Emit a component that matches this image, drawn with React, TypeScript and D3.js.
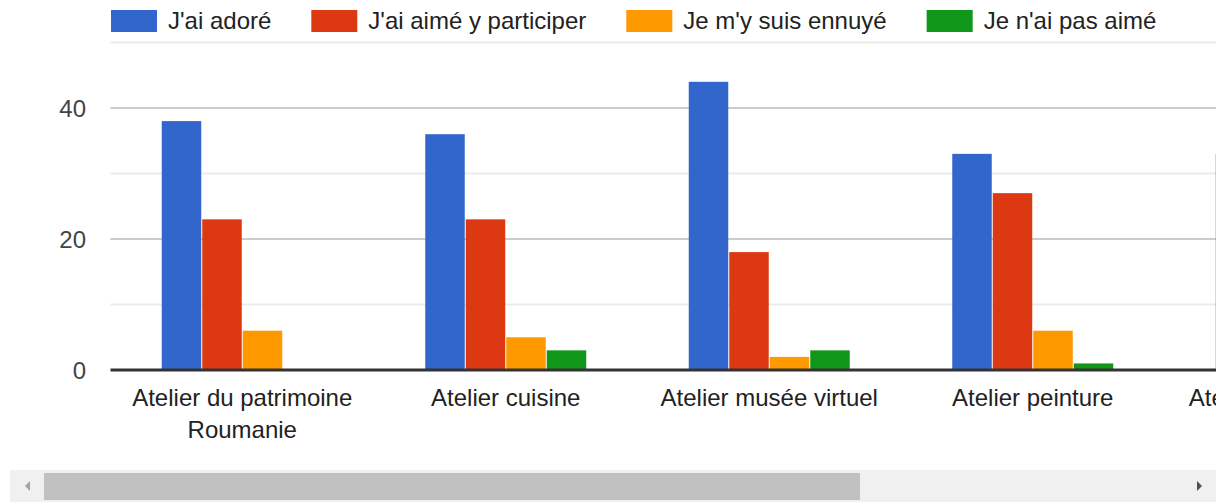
import React, { useEffect, useRef } from "react";
import * as d3 from "d3";

const categories = [
  ["Atelier du patrimoine", "Roumanie"],
  ["Atelier cuisine"],
  ["Atelier musée virtuel"],
  ["Atelier peinture"],
  ["Atelier photographie"],
];
const seriesNames = ["J'ai adoré", "J'ai aimé y participer", "Je m'y suis ennuyé", "Je n'ai pas aimé"];
const seriesColors = ["#3366cc", "#dc3912", "#ff9900", "#109618"];
const adore = [38, 36, 44, 33, 33];
const aime = [23, 23, 18, 27, 25];
const ennuye = [6, 5, 2, 6, 4];
const pasAime = [0, 3, 3, 1, 1];
const majorTicks = [0, 20, 40];
const minorTicks = [10, 30, 50];

const W = 1227;
const H = 502;

function App() {
  const ref = useRef<SVGSVGElement>(null);

  useEffect(() => {
    const svg = d3.select(ref.current);
    svg.selectAll("*").remove();
    const font = "Arial, 'Liberation Sans', sans-serif";
    const fs = 24;
    const series = [adore, aime, ennuye, pasAime];
    const keys = categories.map((c) => c.join(" "));
    const step = 263.5;
    const left = 110.5;
    const clipRight = 1216;

    const x = d3
      .scaleBand<string>()
      .domain(keys)
      .range([left, left + step * keys.length])
      .paddingInner(0.389)
      .paddingOuter(0.1945);
    const xs = d3
      .scaleBand<number>()
      .domain(d3.range(series.length))
      .range([0, x.bandwidth()])
      .paddingInner(0.025);
    const y = d3.scaleLinear().domain([0, 50]).range([370, 42.5]);

    svg
      .append("defs")
      .append("clipPath")
      .attr("id", "vis")
      .append("rect")
      .attr("x", 0)
      .attr("y", 0)
      .attr("width", clipRight)
      .attr("height", 462);

    const g = svg.append("g").attr("clip-path", "url(#vis)");

    // grid
    g.selectAll(".minor")
      .data(minorTicks)
      .enter()
      .append("line")
      .attr("x1", left)
      .attr("x2", W)
      .attr("y1", (d) => y(d))
      .attr("y2", (d) => y(d))
      .attr("stroke", "#ebebeb")
      .attr("stroke-width", 2);
    g.selectAll(".major")
      .data(majorTicks.filter((d) => d > 0))
      .enter()
      .append("line")
      .attr("x1", left)
      .attr("x2", W)
      .attr("y1", (d) => y(d))
      .attr("y2", (d) => y(d))
      .attr("stroke", "#cccccc")
      .attr("stroke-width", 2);

    // bars
    series.forEach((vals, si) => {
      g.append("g")
        .selectAll("rect")
        .data(vals)
        .enter()
        .append("rect")
        .attr("x", (_, i) => (x(keys[i]) as number) + (xs(si) as number))
        .attr("width", xs.bandwidth())
        .attr("y", (d) => y(d))
        .attr("height", (d) => y(0) - y(d))
        .attr("fill", seriesColors[si]);
    });

    // baseline
    g.append("line")
      .attr("x1", left)
      .attr("x2", W)
      .attr("y1", y(0))
      .attr("y2", y(0))
      .attr("stroke", "#333333")
      .attr("stroke-width", 3);

    // x labels
    categories.forEach((lines, i) => {
      const cx = (x(keys[i]) as number) + x.bandwidth() / 2;
      lines.forEach((t, li) => {
        g.append("text")
          .attr("x", cx)
          .attr("y", 406 + li * 32)
          .attr("text-anchor", "middle")
          .attr("font-family", font)
          .attr("font-size", fs)
          .attr("fill", "#222222")
          .text(t);
      });
    });

    // y labels
    svg
      .selectAll(".ylab")
      .data(majorTicks)
      .enter()
      .append("text")
      .attr("x", 86)
      .attr("y", (d) => y(d) + 9)
      .attr("text-anchor", "end")
      .attr("font-family", font)
      .attr("font-size", fs)
      .attr("fill", "#444444")
      .text((d) => d);

    // legend
    let lx = 111;
    seriesNames.forEach((name, i) => {
      svg
        .append("rect")
        .attr("x", lx)
        .attr("y", 10)
        .attr("width", 46)
        .attr("height", 22)
        .attr("fill", seriesColors[i]);
      const t = svg
        .append("text")
        .attr("x", lx + 57)
        .attr("y", 29)
        .attr("font-family", font)
        .attr("font-size", fs)
        .attr("fill", "#222222")
        .text(name);
      const w = (t.node() as SVGTextElement).getComputedTextLength();
      lx += 57 + w + 40;
    });

    // scrollbar
    const sb = svg.append("g");
    sb.append("rect").attr("x", 10).attr("y", 470).attr("width", 1206).attr("height", 32).attr("fill", "#f0f0f0");
    sb.append("rect").attr("x", 44).attr("y", 473).attr("width", 816).attr("height", 27).attr("fill", "#c1c1c1");
    sb.append("path").attr("d", "M30,481 L25,486 L30,491 Z").attr("fill", "#a3a3a3");
    sb.append("path").attr("d", "M1197,481 L1202,486 L1197,491 Z").attr("fill", "#505050");
  }, []);

  return (
    <div style={{ position: "absolute", left: 0, top: 0, width: W, height: H, background: "#fff" }}>
      <svg ref={ref} width={W} height={H} />
    </div>
  );
}

export default App;
